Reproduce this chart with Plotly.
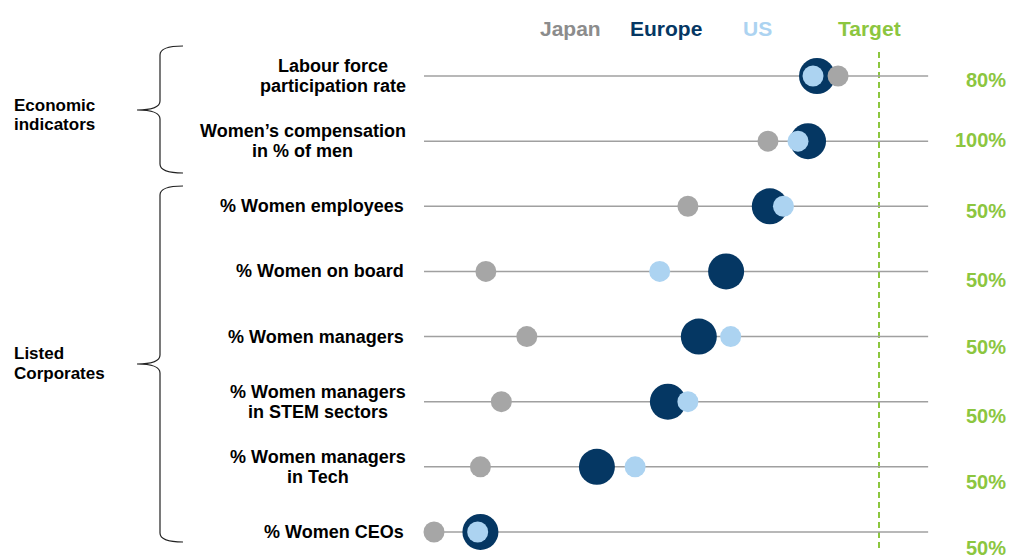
import plotly.graph_objects as go

# ---------------- data ----------------
indicators = [
    "Labour force<br>participation rate",
    "Women’s compensation<br>in % of men",
    "% Women employees",
    "% Women on board",
    "% Women managers",
    "% Women managers<br>in STEM sectors",
    "% Women managers<br>in Tech",
    "% Women CEOs",
]
targets = [80, 100, 50, 50, 50, 50, 50, 50]
japan = [72.8, 75.6, 29.0, 6.8, 11.3, 8.5, 6.2, 1.1]
europe = [69.1, 84.4, 38.0, 33.2, 30.2, 26.8, 19.0, 6.2]
us = [68.4, 82.2, 39.5, 25.9, 33.7, 29.0, 23.2, 5.9]
target_labels = ["80%", "100%", "50%", "50%", "50%", "50%", "50%", "50%"]
groups = ["Economic<br>indicators", "Listed<br>Corporates"]

# ---------------- layout helpers ----------------
W, H = 1011, 558
GREEN = "#8cc63f"
NAVY = "#053763"
LIGHT = "#acd3f1"
GREY = "#a6a6a6"
FONT = "Liberation Sans, Arial, sans-serif"
LINE_GAP = 20      # px between text lines
LABEL_RIGHT = 406  # px right edge of row labels

rows = list(range(len(indicators)))
def frac(vals):
    return [v / t for v, t in zip(vals, targets)]

def px(x):
    return x / W

def py(y):
    return 1 - y / H

X0, X1 = 424, 879        # pixel positions of 0 and target
Y0, DY = 76, 65.14       # first row pixel position and row spacing

fig = go.Figure()

# horizontal guide lines
for r in rows:
    fig.add_shape(type="line", xref="x", yref="y", x0=0, x1=1.108, y0=r, y1=r,
                  line=dict(color="#a0a0a0", width=1.5), layer="below")

# target line
fig.add_shape(type="line", xref="x", yref="paper", x0=1, x1=1, y0=py(52), y1=py(548),
              line=dict(color=GREEN, width=2, dash="6px,4px"), layer="below")

fig.add_trace(go.Scatter(x=frac(europe), y=rows, mode="markers", name="Europe",
                         marker=dict(size=36, color=NAVY, line=dict(width=0))))
fig.add_trace(go.Scatter(x=frac(japan), y=rows, mode="markers", name="Japan",
                         marker=dict(size=21, color=GREY, line=dict(width=0))))
fig.add_trace(go.Scatter(x=frac(us), y=rows, mode="markers", name="US",
                         marker=dict(size=21, color=LIGHT, line=dict(width=0))))

# row labels, line by line (re-centred in the browser on the widest line)
label_font = dict(family=FONT, size=18, color="#000000", weight="bold")
for r, lab in zip(rows, indicators):
    lines = lab.split("<br>")
    n = len(lines)
    for i, ln in enumerate(lines):
        off = (i - (n - 1) / 2) * LINE_GAP / DY
        fig.add_annotation(x=px(LABEL_RIGHT), xref="paper", y=r + off, yref="y", text=ln,
                           xanchor="right", yanchor="middle", showarrow=False,
                           font=label_font, name=f"row{r}")

# target labels
tl_y = [80, 140, 211, 280, 347, 416, 482, 548]
for lab, yy in zip(target_labels, tl_y):
    fig.add_annotation(x=px(1008), xref="paper", y=py(yy), yref="paper", text=lab,
                       xanchor="right", yanchor="middle", showarrow=False,
                       font=dict(family=FONT, size=20, color=GREEN, weight="bold"))

# legend-like header
for txt, col, xx in [("Japan", "#8c8c8c", 570), ("Europe", NAVY, 666),
                     ("US", LIGHT, 757), ("Target", GREEN, 869)]:
    fig.add_annotation(x=px(xx), xref="paper", y=py(28), yref="paper", text=txt,
                       xanchor="center", yanchor="middle", showarrow=False,
                       font=dict(family=FONT, size=21, color=col, weight="bold"))

# group labels and braces
brace_specs = [(46, 110, 173, 115), (186, 364, 542, 363)]
for g, (top, mid, bot, ty) in zip(groups, brace_specs):
    for i, ln in enumerate(g.split("<br>")):
        fig.add_annotation(x=px(12), xref="paper", y=py(ty + (i - 0.5) * LINE_GAP), yref="paper",
                           text=ln, xanchor="left", yanchor="middle", showarrow=False,
                           font=dict(family=FONT, size=17, color="#000000", weight="bold"))
    xe, xv, xt, rr = 183, 160, 137, 9
    pts = (f"M {px(xe)} {py(top)} Q {px(xv)} {py(top)} {px(xv)} {py(top + rr)} "
           f"L {px(xv)} {py(mid - rr)} Q {px(xv)} {py(mid)} {px(xt)} {py(mid)} "
           f"Q {px(xv)} {py(mid)} {px(xv)} {py(mid + rr)} "
           f"L {px(xv)} {py(bot - rr)} Q {px(xv)} {py(bot)} {px(xe)} {py(bot)}")
    fig.add_shape(type="path", xref="paper", yref="paper", path=pts,
                  line=dict(color="#222222", width=1.2))

fig.update_layout(
    width=W, height=H,
    margin=dict(l=0, r=0, t=0, b=0),
    paper_bgcolor="white", plot_bgcolor="white",
    showlegend=False,
    xaxis=dict(range=[-X0 / (X1 - X0), (W - X0) / (X1 - X0)], visible=False, fixedrange=True),
    yaxis=dict(range=[(H - Y0) / DY, -Y0 / DY], visible=False, fixedrange=True),
)

# centre the lines of multi-line row labels on the widest line
post = """
document.body.style.margin='0';document.body.style.overflow='hidden';
var gd = document.getElementsByClassName('plotly-graph-div')[0];
var anns = gd.layout.annotations;
var nodes = gd.querySelectorAll('.annotation');
var groups = {};
for (var i = 0; i < anns.length; i++) {
  var nm = anns[i].name || '';
  if (nm.indexOf('row') === 0) {
    var t = nodes[i].querySelector('text');
    var w = t.getBBox().width;
    (groups[nm] = groups[nm] || []).push([i, w]);
  }
}
var upd = {};
for (var k in groups) {
  var g = groups[k];
  if (g.length < 2) continue;
  var mw = 0; g.forEach(function (e) { mw = Math.max(mw, e[1]); });
  var cx = (%d - mw / 2) / gd.layout.width;
  g.forEach(function (e) {
    upd['annotations[' + e[0] + '].x'] = cx;
    upd['annotations[' + e[0] + '].xanchor'] = 'center';
  });
}
Plotly.relayout(gd, upd);
""" % LABEL_RIGHT

fig.write_html("out.html", config={"displayModeBar": False}, post_script=post)
